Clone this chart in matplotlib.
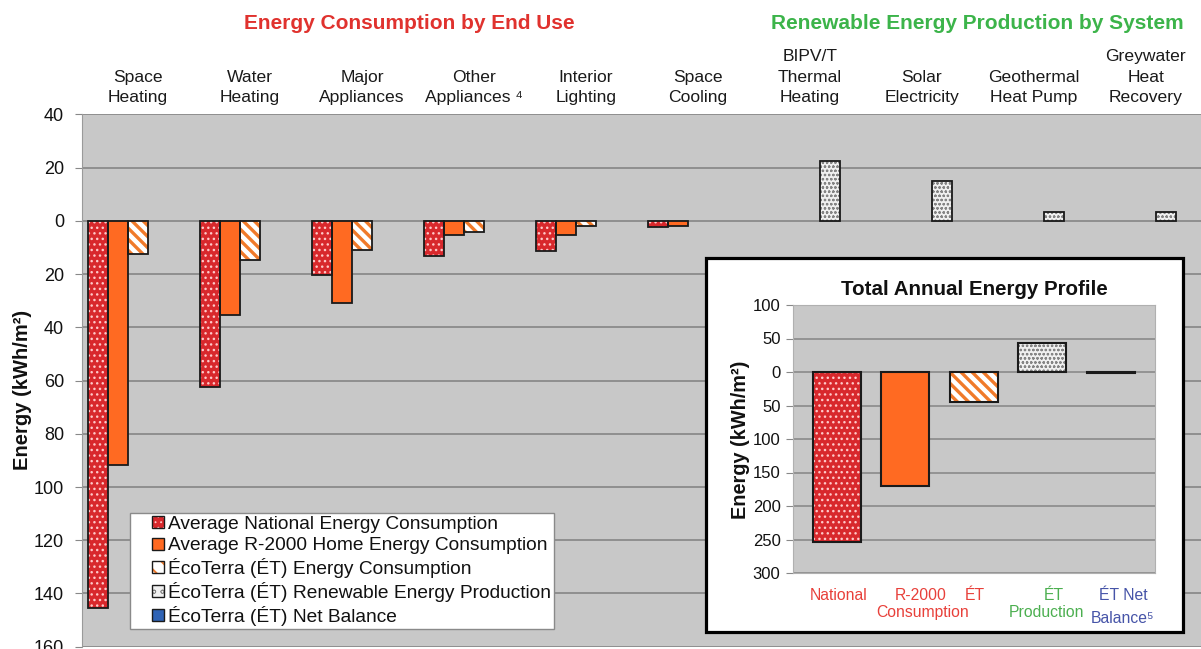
import numpy as np
import matplotlib
matplotlib.use("Agg")
import matplotlib.pyplot as plt
from matplotlib.patches import Rectangle, Patch
from matplotlib.ticker import FuncFormatter
from matplotlib.transforms import blended_transform_factory

plt.rcParams['font.family'] = ['Liberation Sans', 'DejaVu Sans']

# ---------------- data ----------------
categories = ["Space\nHeating", "Water\nHeating", "Major\nAppliances", "Other\nAppliances \u2074",
              "Interior\nLighting", "Space\nCooling", "BIPV/T\nThermal\nHeating", "Solar\nElectricity",
              "Geothermal\nHeat Pump", "Greywater\nHeat\nRecovery"]
end_use_idx = [0, 1, 2, 3, 4, 5]
system_idx = [6, 7, 8, 9]
national = [145.3, 62.4, 20.5, 13.1, 11.5, 2.4]          # kWh/m2 consumption
r2000 = [91.6, 35.3, 30.9, 5.3, 5.3, 2.1]
ecoterra = [12.4, 14.6, 11.1, 4.3, 1.8, np.nan]
production = [22.6, 14.9, 3.3, 3.3]                      # kWh/m2 production
series_names = ["Average National Energy Consumption",
                "Average R-2000 Home Energy Consumption",
                "\u00c9coTerra (\u00c9T) Energy Consumption",
                "\u00c9coTerra (\u00c9T) Renewable Energy Production",
                "\u00c9coTerra (\u00c9T) Net Balance"]
main_yticks = [40, 20, 0, -20, -40, -60, -80, -100, -120, -140, -160]

total_values = [-253.7, -170.6, -44.8, 43.7, -1.1]
inset_yticks = [100, 50, 0, -50, -100, -150, -200, -250, -300]

# ---------------- styles ----------------
RED = '#d8282c'
ORANGE = '#ff6a22'
STRIPE = '#f07a2a'
PROD_FACE = '#f0f0f0'
BLUE = '#2f63b5'
BG = '#c8c8c8'
GRID = '#8a8a8a'
EDGE = '#1a1a1a'

W, H = 1201, 649
fig = plt.figure(figsize=(W / 100, H / 100), dpi=100)

def fx(px):
    return px / W

def fy(py):
    return 1 - py / H

styles = [
    dict(face=RED, hatch='...', hcolor='#ffc8c8', hlw=1.0),
    dict(face=ORANGE, hatch=None, hcolor=None, hlw=1.0),
    dict(face='white', hatch='\\\\\\', hcolor=STRIPE, hlw=2.4),
    dict(face=PROD_FACE, hatch='oooo', hcolor='#858585', hlw=0.6),
    dict(face=BLUE, hatch=None, hcolor=None, hlw=1.0),
]

def draw_bars(ax, x, h, width, st, lw=1.3, zorder=3):
    x = np.asarray(x, float)
    h = np.asarray(h, float)
    m = ~np.isnan(h)
    x, h = x[m], h[m]
    if st['hatch']:
        with plt.rc_context({'hatch.linewidth': st['hlw']}):
            ax.bar(x, h, width, color=st['face'], edgecolor=st['hcolor'], hatch=st['hatch'],
                   linewidth=0, zorder=zorder)
    else:
        ax.bar(x, h, width, color=st['face'], linewidth=0, zorder=zorder)
    ax.bar(x, h, width, fill=False, edgecolor=EDGE, linewidth=lw, zorder=zorder + 0.1)

# ---------------- main axes ----------------
ax = fig.add_axes([fx(82), fy(646.7), fx(1202) - fx(82), fy(114.4) - fy(646.7)])
ax.set_facecolor(BG)
ax.set_xlim(-0.5, len(categories) - 0.5)
ax.set_ylim(-160, 40)
ax.set_yticks(main_yticks)
ax.yaxis.set_major_formatter(FuncFormatter(lambda v, p: f"{abs(v):.0f}"))
ax.tick_params(axis='y', labelsize=13, length=5, color='#888888', pad=8, labelcolor='#111111')
ax.set_xticks([])
ax.grid(axis='y', color=GRID, linewidth=1.3, zorder=1)
ax.set_axisbelow(True)
for s in ['top', 'right', 'bottom']:
    ax.spines[s].set_visible(False)
ax.spines['left'].set_color('#9a9a9a')

bw = 20 / 112
xi = np.arange(len(categories))
draw_bars(ax, xi[end_use_idx] - 2 * bw, -np.array(national), bw, styles[0])
draw_bars(ax, xi[end_use_idx] - 1 * bw, -np.array(r2000), bw, styles[1])
draw_bars(ax, xi[end_use_idx] + 0 * bw, -np.array(ecoterra), bw, styles[2])
draw_bars(ax, xi[system_idx] + 1 * bw, np.array(production), bw, styles[3])

# category labels
tr = blended_transform_factory(ax.transData, fig.transFigure)
for i, c in enumerate(categories):
    ax.text(i, fy(102), c, transform=tr, ha='center', va='baseline', fontsize=12.6,
            color='#1a1a1a', linespacing=1.45, clip_on=False)

fig.text(fx(409), fy(29), "Energy Consumption by End Use", ha='center', va='baseline',
         fontsize=15, fontweight='bold', color='#e0322e')
fig.text(fx(977), fy(29), "Renewable Energy Production by System", ha='center', va='baseline',
         fontsize=15, fontweight='bold', color='#3cb44a')
fig.text(fx(23), fy(390), "Energy (kWh/m\u00b2)", rotation=90, ha='center', va='center',
         fontsize=14.5, fontweight='bold', color='#111111')

# legend with custom square handles
class SquareHandler:
    def __init__(self, st):
        self.st = st

    def legend_artist(self, legend, orig_handle, fontsize, handlebox):
        s = 8.6
        w, h = handlebox.width, handlebox.height
        x0 = w - s - handlebox.xdescent
        y0 = (h - s) / 2 - handlebox.ydescent
        st = self.st
        if st['hatch']:
            with plt.rc_context({'hatch.linewidth': max(st['hlw'] * 0.6, 0.5)}):
                r1 = Rectangle((x0, y0), s, s, facecolor=st['face'], edgecolor=st['hcolor'],
                               hatch=st['hatch'].replace('oooo', 'oo').replace('\\\\\\', '\\\\'),
                               linewidth=0, transform=handlebox.get_transform())
        else:
            r1 = Rectangle((x0, y0), s, s, facecolor=st['face'], linewidth=0,
                           transform=handlebox.get_transform())
        r2 = Rectangle((x0, y0), s, s, fill=False, edgecolor=EDGE, linewidth=1.0,
                       transform=handlebox.get_transform())
        handlebox.add_artist(r1)
        handlebox.add_artist(r2)
        return r2

handles = [Patch(label=n) for n in series_names]
hmap = {h: SquareHandler(st) for h, st in zip(handles, styles)}
leg = ax.legend(handles=handles, handler_map=hmap, loc='upper left',
                bbox_to_anchor=(fx(130), fy(512.7)), bbox_transform=fig.transFigure,
                borderaxespad=0, fontsize=13.8, frameon=True, fancybox=False,
                framealpha=1, edgecolor='#8a8a8a', borderpad=0.15, labelspacing=0.2,
                handlelength=1.6, handletextpad=0.25, handleheight=0.7)
leg.get_frame().set_linewidth(1.0)
leg.set_zorder(5)
for t in leg.get_texts():
    t.set_color('#111111')

# ---------------- inset ----------------
box = Rectangle((fx(706), fy(632)), fx(1183) - fx(706), fy(258) - fy(632),
                transform=fig.transFigure, facecolor='white', edgecolor='black',
                linewidth=2.3, zorder=6)
fig.add_artist(box)

axi = fig.add_axes([fx(793), fy(573), fx(1155) - fx(793), fy(305) - fy(573)], zorder=7)
axi.set_facecolor(BG)
axi.set_xlim(-0.643, 4.649)
axi.set_ylim(-300, 100)
axi.set_yticks(inset_yticks)
axi.yaxis.set_major_formatter(FuncFormatter(lambda v, p: f"{abs(v):.0f}"))
axi.tick_params(axis='y', labelsize=12, length=5, color='#888888', pad=4, labelcolor='#111111')
axi.set_xticks([])
axi.grid(axis='y', color=GRID, linewidth=1.2, zorder=1)
axi.set_axisbelow(True)
for s in ['top', 'right', 'bottom', 'left']:
    axi.spines[s].set_color('#b0b0b0')
    axi.spines[s].set_linewidth(0.8)

bwi = 0.70
for k, (v, st) in enumerate(zip(total_values, styles)):
    draw_bars(axi, [k], [v], bwi, st, lw=1.5)

axi.set_title("Total Annual Energy Profile", fontsize=14.8, fontweight='bold', pad=7, color='#111111')
fig.text(fx(740), fy(440), "Energy (kWh/m\u00b2)", rotation=90, ha='center', va='center',
         fontsize=14.3, fontweight='bold', color='#111111', zorder=10)

lab_red = '#e8403a'
lab_green = '#4caf50'
lab_blue = '#4654a8'
inset_labels = [
    (839, 599.5, "National", lab_red),
    (921, 599.5, "R-2000", lab_red),
    (923, 617, "Consumption", lab_red),
    (974.5, 599.5, "\u00c9T", lab_red),
    (1054, 599.5, "\u00c9T", lab_green),
    (1047, 617, "Production", lab_green),
    (1123, 599.5, "\u00c9T Net", lab_blue),
    (1123, 623, "Balance\u2075", lab_blue),
]
for px, py, txt, col in inset_labels:
    fig.text(fx(px), fy(py), txt, ha='center', va='baseline', fontsize=11.3, color=col, zorder=10)

fig.savefig("out.png", dpi=100, facecolor='white')
